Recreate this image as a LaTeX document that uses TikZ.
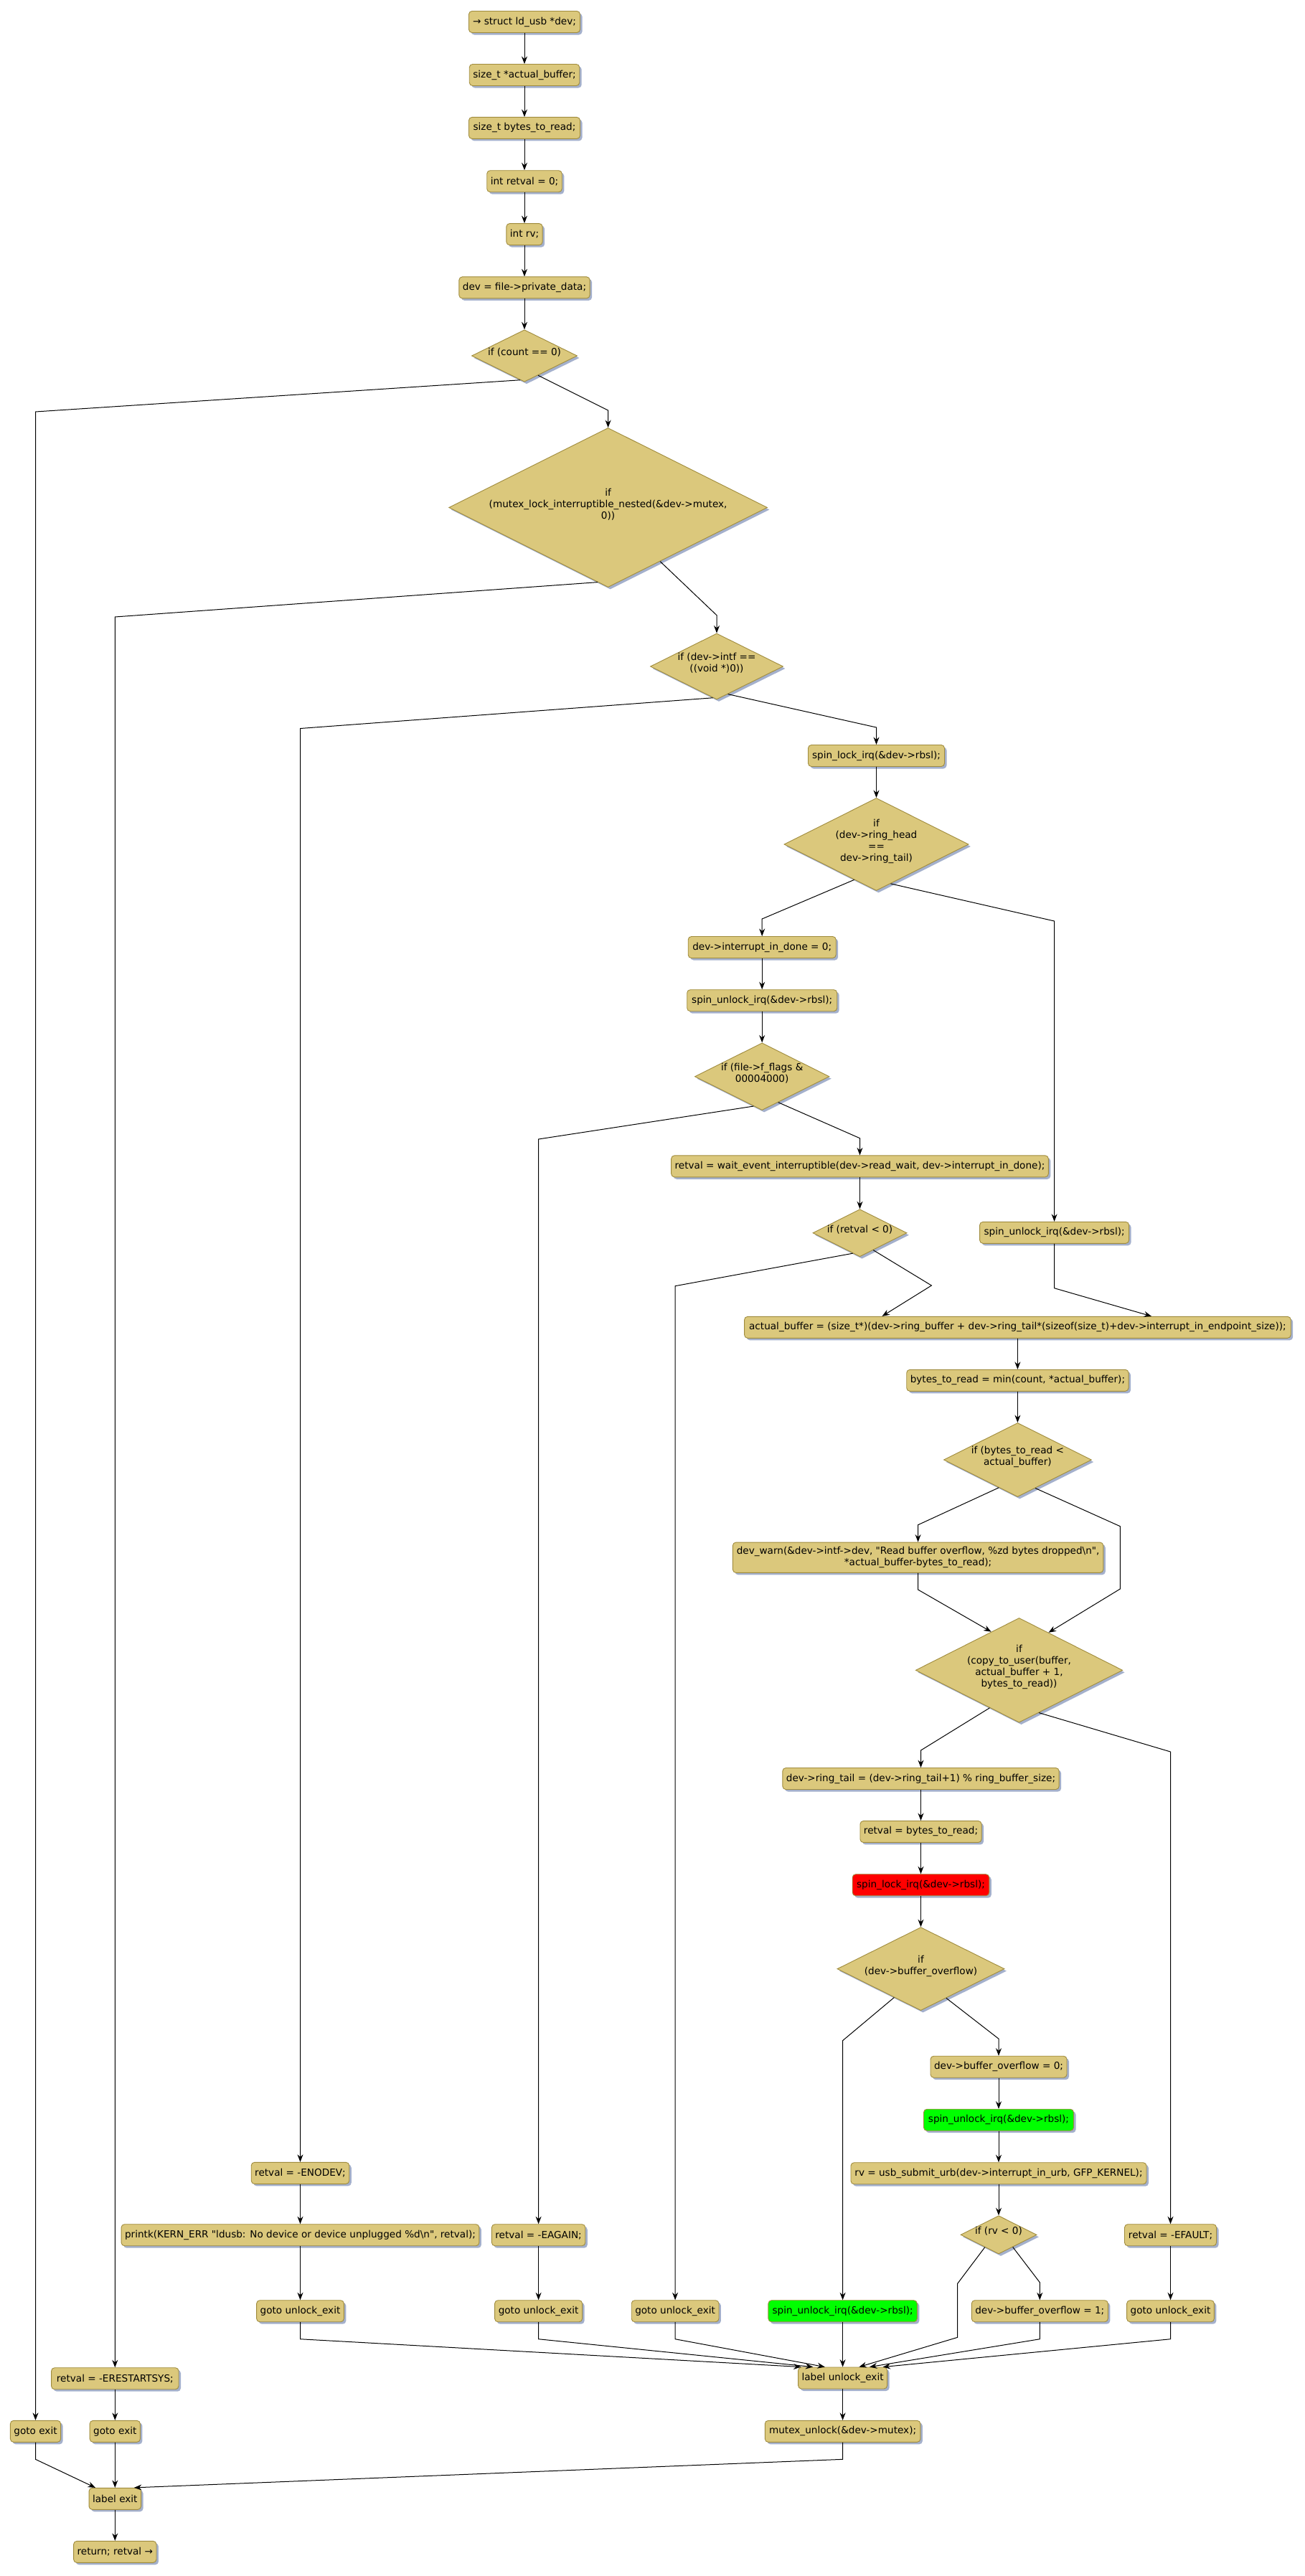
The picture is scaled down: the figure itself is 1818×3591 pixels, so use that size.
\documentclass[tikz,border=0pt]{standalone}
\usepackage{fontspec}
\newfontfamily\dv{DejaVu Sans}
\usetikzlibrary{shapes.geometric,shadows,arrows.meta}
\definecolor{boxfill}{RGB}{219,200,124}
\definecolor{boxborder}{RGB}{160,140,62}
\definecolor{shadowcol}{RGB}{164,176,204}
\definecolor{redfill}{RGB}{255,0,0}
\definecolor{greenfill}{RGB}{0,255,0}
\newcommand{\dvf}{\dv\fontsize{13.6bp}{16bp}\selectfont}
\newcommand{\dtext}[1]{\makebox[0pt]{\smash{\begin{tabular}{@{}c@{}}#1\end{tabular}}}}
\tikzset{
  shad/.style={drop shadow={shadow xshift=3bp,shadow yshift=-3bp,fill=shadowcol,opacity=1}},
  box/.style={draw=boxborder,fill=boxfill,rounded corners=4.5bp,minimum height=30bp,
    inner xsep=5bp,inner ysep=2bp,line width=0.9bp,shad,font=\dvf,align=center},
  dia/.style={shape=diamond,draw=boxborder,fill=boxfill,inner sep=0pt,line width=0.9bp,shad,font=\dvf},
  flow/.style={-{Stealth[length=10.5bp,width=8bp,inset=3.5bp]},line width=1bp},
}
\begin{document}
\begin{tikzpicture}[x=1bp,y=-1bp]
\fill[white] (0,0) rectangle (1818,3591);
\useasboundingbox (0,0) rectangle (1818,3591);
% main column
\node[box,minimum width=155bp] (n1) at (731,30.5) {→ struct ld\_usb *dev;};
\node[box,minimum width=153bp] (n2) at (731,104.5) {size\_t *actual\_buffer;};
\node[box,minimum width=155bp] (n3) at (731,178.4) {size\_t bytes\_to\_read;};
\node[box,minimum width=102bp] (n4) at (731,252.7) {int retval = 0;};
\node[box,minimum width=48bp] (n5) at (731,326.6) {int rv;};
\node[box,minimum width=178bp] (n6) at (731,400.9) {dev = file->private\_data;};
\node[dia,minimum width=147bp,minimum height=72.5bp] (d1) at (731,496) {\dtext{if (count == 0)}};
\node[dia,minimum width=444bp,minimum height=222bp] (d2) at (847.6,707.5) {\dtext{if\\(mutex\_lock\_interruptible\_nested(\&dev->mutex,\\0))}};
\node[dia,minimum width=185bp,minimum height=92bp] (d3) at (999,929) {\dtext{if (dev->intf ==\\((void *)0))}};
\node[box,minimum width=190bp] (spinlock) at (1221.5,1053.5) {spin\_lock\_irq(\&dev->rbsl);};
\node[dia,minimum width=257bp,minimum height=129bp] (d4) at (1221.5,1177) {\dtext{if\\(dev->ring\_head\\==\\dev->ring\_tail)}};
\node[box,minimum width=206bp] (intdone) at (1062.2,1320.5) {dev->interrupt\_in\_done = 0;};
\node[box,minimum width=209bp] (unlockA) at (1062.2,1394.7) {spin\_unlock\_irq(\&dev->rbsl);};
\node[dia,minimum width=187.5bp,minimum height=93.7bp] (d5) at (1062.2,1500.7) {\dtext{if (file->f\_flags \&\\00004000)}};
\node[box,minimum width=522bp] (wait) at (1198.5,1625.8) {retval = wait\_event\_interruptible(dev->read\_wait, dev->interrupt\_in\_done);};
\node[dia,minimum width=131bp,minimum height=66bp] (d6) at (1198.5,1718.7) {\dtext{if (retval < 0)}};
\node[box,minimum width=208bp] (unlockR) at (1469.6,1718.3) {spin\_unlock\_irq(\&dev->rbsl);};
\node[box,minimum width=761.6bp] (abuf) at (1418.4,1850.3) {actual\_buffer = (size\_t*)(dev->ring\_buffer + dev->ring\_tail*(sizeof(size\_t)+dev->interrupt\_in\_endpoint\_size));};
\node[box,minimum width=309bp] (btr) at (1418.4,1924.3) {bytes\_to\_read = min(count, *actual\_buffer);};
\node[dia,minimum width=206bp,minimum height=103bp] (d7) at (1418.4,2035) {\dtext{if (bytes\_to\_read <\\*actual\_buffer)}};
\node[box,minimum width=516.4bp,minimum height=42.3bp] (devwarn) at (1279.6,2171.2) {dev\_warn(\&dev->intf->dev, "Read buffer overflow, \%zd bytes dropped\textbackslash n",\\*actual\_buffer-bytes\_to\_read);};
\node[dia,minimum width=288.5bp,minimum height=145.7bp] (d8) at (1420.5,2328.3) {\dtext{if\\(copy\_to\_user(buffer,\\actual\_buffer + 1,\\bytes\_to\_read))}};
\node[box,minimum width=382.5bp] (ringtail) at (1283.5,2479.5) {dev->ring\_tail = (dev->ring\_tail+1) \% ring\_buffer\_size;};
\node[box,minimum width=167.6bp] (retbtr) at (1283.5,2553.4) {retval = bytes\_to\_read;};
\node[box,minimum width=190.6bp,fill=redfill] (red) at (1283.5,2627.7) {spin\_lock\_irq(\&dev->rbsl);};
\node[dia,minimum width=233bp,minimum height=116bp] (d9) at (1283.5,2744.6) {\dtext{if\\(dev->buffer\_overflow)}};
\node[box,minimum width=189bp] (bo0) at (1392,2881.2) {dev->buffer\_overflow = 0;};
\node[box,minimum width=209bp,fill=greenfill] (greenR) at (1392,2955.2) {spin\_unlock\_irq(\&dev->rbsl);};
\node[box,minimum width=412bp] (usb) at (1392,3029.7) {rv = usb\_submit\_urb(dev->interrupt\_in\_urb, GFP\_KERNEL);};
\node[dia,minimum width=106bp,minimum height=53.3bp] (d10) at (1392,3115.3) {\dtext{if (rv < 0)}};
\node[box,minimum width=188.6bp] (bo1) at (1449.3,3221.7) {dev->buffer\_overflow = 1;};
\node[box,minimum width=128bp] (efault) at (1631.5,3115.7) {retval = -EFAULT;};
\node[box,minimum width=121.4bp] (gotoR) at (1631.5,3221.7) {goto unlock\_exit};
\node[box,minimum width=207.4bp,fill=greenfill] (greenL) at (1174.6,3221.7) {spin\_unlock\_irq(\&dev->rbsl);};
\node[box,minimum width=122bp] (ule) at (1174.6,3315) {label unlock\_exit};
\node[box,minimum width=216.6bp] (mutex) at (1174.6,3389.3) {mutex\_unlock(\&dev->mutex);};
\node[box,minimum width=135.4bp] (enodev) at (418.5,3029.3) {retval = -ENODEV;};
\node[box,minimum width=496bp] (printk) at (418.5,3115.7) {printk(KERN\_ERR "ldusb: No device or device unplugged \%d\textbackslash n", retval);};
\node[box,minimum width=121.3bp] (goto1) at (418.5,3221.7) {goto unlock\_exit};
\node[box,minimum width=126.3bp] (eagain) at (750.6,3115.7) {retval = -EAGAIN;};
\node[box,minimum width=122bp] (goto2) at (750.6,3221.7) {goto unlock\_exit};
\node[box,minimum width=121.4bp] (goto3) at (941.1,3221.7) {goto unlock\_exit};
\node[box,minimum width=177.4bp] (erestart) at (160.3,3315.7) {retval = -ERESTARTSYS;};
\node[box,minimum width=70bp] (gotoA) at (49.5,3389.3) {goto exit};
\node[box,minimum width=69bp] (gotoB) at (160.3,3389.3) {goto exit};
\node[box,minimum width=69bp] (lexit) at (160.3,3483.3) {label exit};
\node[box,minimum width=113.6bp] (ret) at (160.3,3557.3) {return; retval →};
% connectors
\draw[flow] (n1) -- (n2);
\draw[flow] (n2) -- (n3);
\draw[flow] (n3) -- (n4);
\draw[flow] (n4) -- (n5);
\draw[flow] (n5) -- (n6);
\draw[flow] (n6) -- (d1);
\draw[flow] (d1.260) -- (49.5,574) -- (gotoA.north);
\draw[flow] (d1.305) -- (847.6,572) -- (d2.north);
\draw[flow] (d2.262) -- (160.3,860) -- (erestart.north);
\draw[flow] (d2.314.6) -- (999,857.7) -- (d3.north);
\draw[flow] (d3.263.3) -- (418.5,1015.5) -- (enodev.north);
\draw[flow] (d3.292.8) -- (1221.5,1014) -- (spinlock.north);
\draw[flow] (spinlock) -- (d4);
\draw[flow] (d4.238.4) -- (1062.2,1281) -- (intdone.north);
\draw[flow] (d4.290.5) -- (1469.6,1284) -- (unlockR.north);
\draw[flow] (intdone) -- (unlockA);
\draw[flow] (unlockA) -- (d5);
\draw[flow] (d5.254.2) -- (750.6,1588) -- (eagain.north);
\draw[flow] (d5.302.2) -- (1198.5,1586.7) -- (wait.north);
\draw[flow] (wait) -- (d6);
\draw[flow] (d6.251.3) -- (941.1,1792.7) -- (goto3.north);
\draw[flow] (d6.308.7) -- (1298.4,1792) -- ([xshift=-188.9bp]abuf.north);
\draw[flow] (unlockR.south) -- (1469.6,1795.7) -- ([xshift=186.6bp]abuf.north);
\draw[flow] (abuf) -- (btr);
\draw[flow] (btr) -- (d7);
\draw[flow] (d7.236.9) -- (1279.6,2125.7) -- (devwarn.north);
\draw[flow] (d7.302) -- (1561.3,2127.7) -- (1561.3,2215) -- (d8.52.3);
\draw[flow] (devwarn.south) -- (1279.6,2216) -- (d8.126.7);
\draw[flow] (d8.232.2) -- (1283.5,2440) -- (ringtail.north);
\draw[flow] (d8.295.7) -- (1631.5,2442) -- (efault.north);
\draw[flow] (ringtail) -- (retbtr);
\draw[flow] (retbtr) -- (red);
\draw[flow] (red) -- (d9);
\draw[flow] (d9.227.1) -- (1174.6,2844.6) -- (greenL.north);
\draw[flow] (d9.311) -- (1392,2842.1) -- (bo0.north);
\draw[flow] (bo0) -- (greenR);
\draw[flow] (greenR) -- (usb);
\draw[flow] (usb) -- (d10);
\draw[flow] (d10.222) -- (1334.7,3183.3) -- (1334.7,3258.3) -- ([xshift=22.8bp]ule.north);
\draw[flow] (d10.319.9) -- (1449.3,3181.7) -- (bo1.north);
\draw[flow] (efault) -- (gotoR);
\draw[flow] (enodev) -- (printk);
\draw[flow] (printk) -- (goto1);
\draw[flow] (eagain) -- (goto2);
\draw[flow] (goto1.south) -- (418.5,3260.7) -- ([xshift=-58bp]ule.north);
\draw[flow] (goto2.south) -- (750.6,3260.7) -- ([xshift=-41.4bp]ule.north);
\draw[flow] (goto3.south) -- (941.1,3260.7) -- ([xshift=-24.8bp]ule.north);
\draw[flow] (greenL) -- (ule);
\draw[flow] (bo1.south) -- (1449.3,3260.7) -- ([xshift=37.4bp]ule.north);
\draw[flow] (gotoR.south) -- (1631.5,3260.7) -- ([xshift=56bp]ule.north);
\draw[flow] (ule) -- (mutex);
\draw[flow] (erestart) -- (gotoB);
\draw[flow] (gotoA.south) -- (49.5,3428.3) -- ([xshift=-27.3bp]lexit.north);
\draw[flow] (gotoB) -- (lexit);
\draw[flow] (mutex.south) -- (1174.6,3428.3) -- ([xshift=26.6bp]lexit.north);
\draw[flow] (lexit) -- (ret);
\end{tikzpicture}
\end{document}
